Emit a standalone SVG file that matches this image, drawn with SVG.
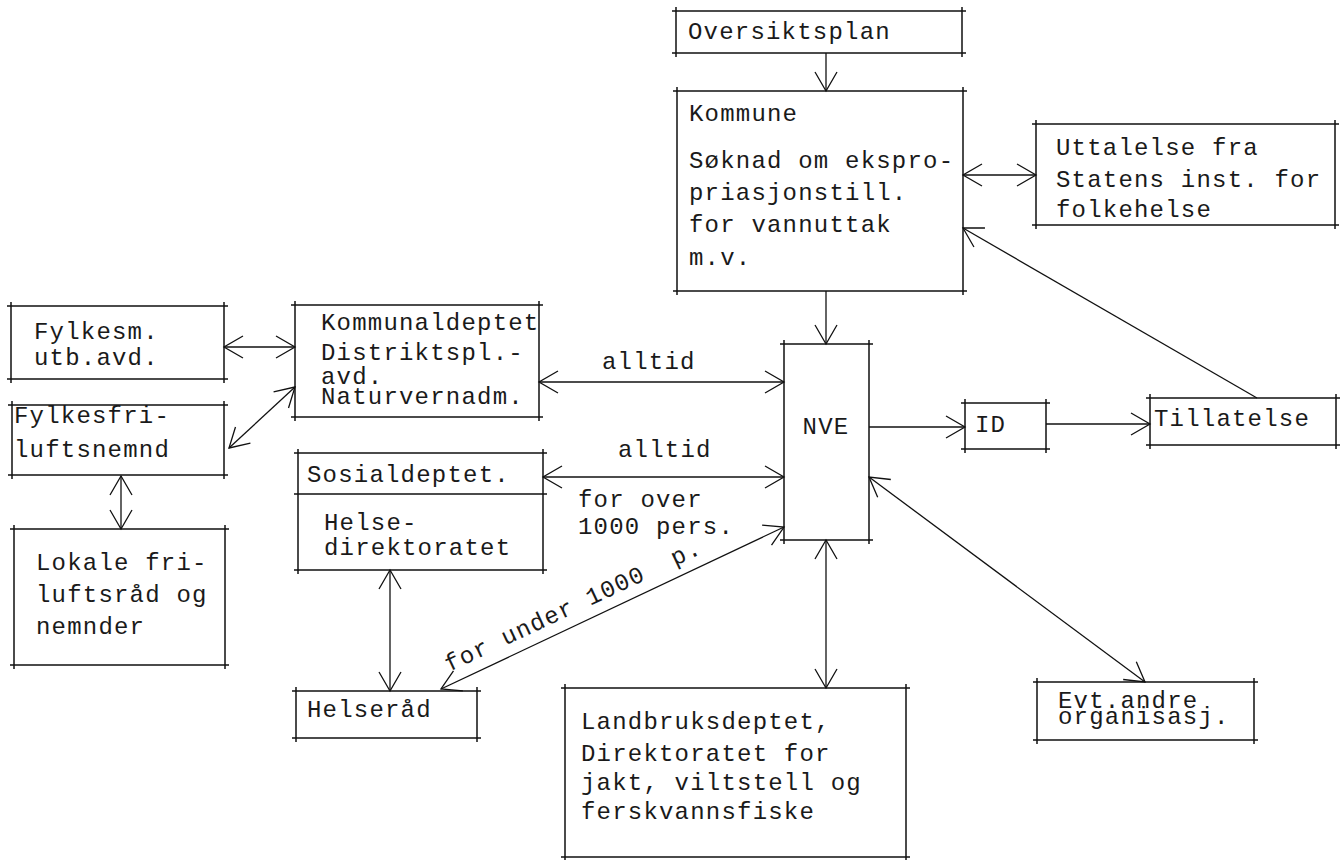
<svg xmlns="http://www.w3.org/2000/svg" width="1340" height="860" viewBox="0 0 1340 860">
<defs>
<marker id="ah" markerUnits="userSpaceOnUse" markerWidth="22" markerHeight="26" viewBox="0 0 22 26" refX="20" refY="13" orient="auto-start-reverse">
<path d="M1,2 L20,13 L1,24" fill="none" stroke="#111" stroke-width="1.3"/>
</marker>
<style>
.box{fill:none;stroke:#111;stroke-width:1.5}
.c{fill:none;stroke:#111;stroke-width:1.3}
.t{font-family:"Liberation Mono","DejaVu Sans Mono",monospace;font-size:24px;letter-spacing:1.2px;fill:#1a1a1a}
</style>
</defs>
<rect width="1340" height="860" fill="#fff"/>

<g id="connectors">
<line class="c" x1="826" y1="53" x2="826" y2="91" marker-end="url(#ah)"/>
<line class="c" x1="826" y1="291" x2="826" y2="344" marker-end="url(#ah)"/>
<line class="c" x1="963" y1="175" x2="1036" y2="175" marker-start="url(#ah)" marker-end="url(#ah)"/>
<line class="c" x1="1257" y1="398" x2="963" y2="228" marker-end="url(#ah)"/>
<line class="c" x1="224" y1="347" x2="295" y2="347" marker-start="url(#ah)" marker-end="url(#ah)"/>
<line class="c" x1="229" y1="448" x2="295" y2="387" marker-start="url(#ah)" marker-end="url(#ah)"/>
<line class="c" x1="121" y1="476" x2="121" y2="529" marker-start="url(#ah)" marker-end="url(#ah)"/>
<line class="c" x1="539" y1="382" x2="784" y2="382" marker-start="url(#ah)" marker-end="url(#ah)"/>
<line class="c" x1="543" y1="477" x2="784" y2="477" marker-start="url(#ah)" marker-end="url(#ah)"/>
<line class="c" x1="441" y1="689" x2="784" y2="527" marker-start="url(#ah)" marker-end="url(#ah)"/>
<line class="c" x1="390" y1="570" x2="390" y2="691" marker-start="url(#ah)" marker-end="url(#ah)"/>
<line class="c" x1="826" y1="540" x2="826" y2="688" marker-start="url(#ah)" marker-end="url(#ah)"/>
<line class="c" x1="869" y1="427" x2="965" y2="427" marker-end="url(#ah)"/>
<line class="c" x1="1046" y1="424" x2="1150" y2="424" marker-end="url(#ah)"/>
<line class="c" x1="869" y1="477" x2="1145" y2="682" marker-start="url(#ah)" marker-end="url(#ah)"/>
<text class="t" x="602" y="369">alltid</text>
<text class="t" x="618" y="457">alltid</text>
<text class="t" x="578" y="507">for over</text>
<text class="t" x="578" y="534">1000 pers.</text>
<text class="t" x="449" y="672" transform="rotate(-25.1 449 672)" xml:space="preserve">for under 1000  p.</text>
</g>

<g id="oversiktsplan">
<path class="box" d="M672,11H966M962,7V57M966,53H672M676,57V7"/>
<text class="t" x="688" y="39">Oversiktsplan</text>
</g>

<g id="kommune">
<path class="box" d="M673,91H967M963,87V295M967,291H673M677,295V87"/>
<text class="t" x="689" y="121">Kommune</text>
<text class="t" x="689" y="168">Søknad om ekspro-</text>
<text class="t" x="689" y="200">priasjonstill.</text>
<text class="t" x="689" y="232">for vannuttak</text>
<text class="t" x="689" y="265">m.v.</text>
</g>

<g id="uttalelse">
<path class="box" d="M1032,124H1339M1335,120V229M1339,225H1032M1036,229V120"/>
<text class="t" x="1056" y="155">Uttalelse fra</text>
<text class="t" x="1056" y="187">Statens inst. for</text>
<text class="t" x="1056" y="217">folkehelse</text>
</g>

<g id="fylkesm">
<path class="box" d="M7,306H228M224,302V383M228,379H7M11,383V302"/>
<text class="t" x="34" y="339">Fylkesm.</text>
<text class="t" x="34" y="365">utb.avd.</text>
</g>

<g id="kommunaldept">
<path class="box" d="M291,305H543M539,301V421M543,417H291M295,421V301"/>
<text class="t" x="321" y="330">Kommunaldeptet</text>
<text class="t" x="321" y="360">Distriktspl.-</text>
<text class="t" x="321" y="384">avd.</text>
<text class="t" x="321" y="404">Naturvernadm.</text>
</g>

<g id="fylkesfri">
<path class="box" d="M8,405H228M224,401V479M228,475H8M12,479V401"/>
<text class="t" x="14" y="423">Fylkesfri-</text>
<text class="t" x="14" y="457">luftsnemnd</text>
</g>

<g id="lokale">
<path class="box" d="M10,529H229M225,525V669M229,665H10M14,669V525"/>
<text class="t" x="36" y="570">Lokale fri-</text>
<text class="t" x="36" y="602">luftsråd og</text>
<text class="t" x="36" y="634">nemnder</text>
</g>

<g id="sosialdept">
<path class="box" d="M294,453H547M543,449V574M547,570H294M298,574V449M294,494H547"/>
<text class="t" x="307" y="482">Sosialdeptet.</text>
<text class="t" x="324" y="530">Helse-</text>
<text class="t" x="324" y="555">direktoratet</text>
</g>

<g id="helserad">
<path class="box" d="M292,691H481M477,687V742M481,738H292M296,742V687"/>
<text class="t" x="307" y="717">Helseråd</text>
</g>

<g id="nve">
<path class="box" d="M780,344H873M869,340V544M873,540H780M784,544V340"/>
<text class="t" x="826" y="434" text-anchor="middle">NVE</text>
</g>

<g id="id">
<path class="box" d="M961,403H1050M1046,399V453M1050,449H961M965,453V399"/>
<text class="t" x="975" y="432">ID</text>
</g>

<g id="tillatelse">
<path class="box" d="M1146,398H1340M1336,394V449M1340,445H1146M1150,449V394"/>
<text class="t" x="1154" y="426">Tillatelse</text>
</g>

<g id="landbruk">
<path class="box" d="M561,688H910M906,684V860M910,857H561M565,860V684"/>
<text class="t" x="581" y="729">Landbruksdeptet,</text>
<text class="t" x="581" y="761">Direktoratet for</text>
<text class="t" x="581" y="790">jakt, viltstell og</text>
<text class="t" x="581" y="819">ferskvannsfiske</text>
</g>

<g id="evt">
<path class="box" d="M1033,682H1258M1254,678V744M1258,740H1033M1037,744V678"/>
<text class="t" x="1058" y="708">Evt.andre</text>
<text class="t" x="1058" y="724">organisasj.</text>
</g>
</svg>
